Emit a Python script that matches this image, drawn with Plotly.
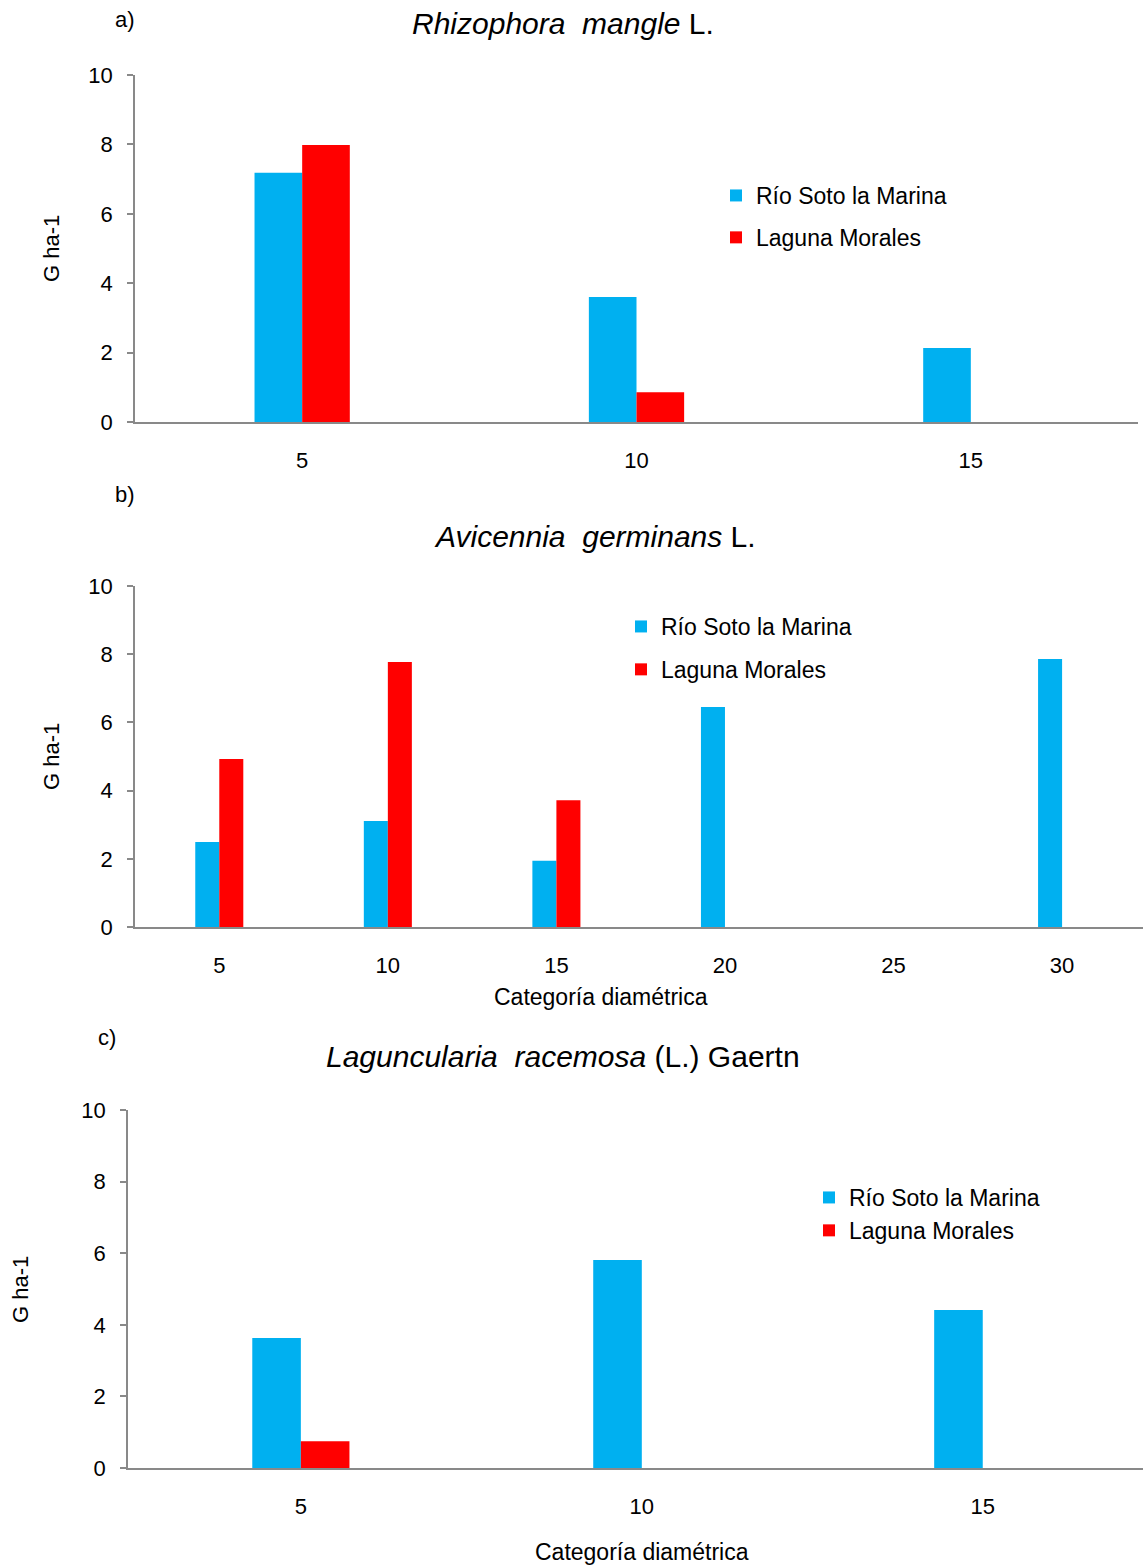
import plotly.graph_objects as go

# ---- data ----
cats_a = ["5", "10", "15"]
rio_a = [7.18, 3.6, 2.13]
lag_a = [7.98, 0.86, 0]

cats_b = ["5", "10", "15", "20", "25", "30"]
rio_b = [2.49, 3.11, 1.94, 6.45, None, 7.86]
lag_b = [4.93, 7.77, 3.72, 0, None, 0]

cats_c = ["5", "10", "15"]
rio_c = [3.63, 5.81, 4.41]
lag_c = [0.75, 0, 0]

series_names = ["Río Soto la Marina", "Laguna Morales"]
colors = ["#00B0F0", "#FF0000"]

W, H = 1143, 1568
FONT = "Liberation Sans, Arial, sans-serif"

def px_x(p):
    return p / W

def px_y(p):
    return 1 - p / H

fig = go.Figure()

panels = [
    (cats_a, rio_a, lag_a, "x", "y", "legend"),
    (cats_b, rio_b, lag_b, "x2", "y2", "legend2"),
    (cats_c, rio_c, lag_c, "x3", "y3", "legend3"),
]
for cats, rio, lag, xa, ya, lg in panels:
    for i, (vals, name) in enumerate(zip([rio, lag], series_names)):
        fig.add_trace(go.Bar(
            x=cats, y=vals, name=name, marker=dict(color=colors[i], line=dict(width=0)),
            xaxis=xa, yaxis=ya, legend=lg, legendgroup=lg + str(i),
        ))

axis_color = "#898989"
tickfont = dict(family=FONT, size=22, color="#000")

def xaxis(domain, anchor, rng):
    return dict(domain=domain, anchor=anchor, type="category", range=rng,
                showline=True, linecolor=axis_color, linewidth=2,
                ticks="", showgrid=False, zeroline=False, tickfont=tickfont,
                ticklabelstandoff=18, fixedrange=True, automargin=False)

def yaxis(domain, anchor):
    return dict(domain=domain, anchor=anchor, range=[0, 10], tickvals=[0, 2, 4, 6, 8, 10],
                showline=True, linecolor=axis_color, linewidth=1.5,
                ticks="outside", ticklen=6, tickcolor=axis_color, tickwidth=1.5,
                showgrid=False, zeroline=False, tickfont=tickfont,
                ticklabelstandoff=10, fixedrange=True, automargin=False)

layout = dict(
    width=W, height=H, margin=dict(l=0, r=0, t=0, b=0, autoexpand=False),
    paper_bgcolor="white", plot_bgcolor="white",
    barmode="group", bargap=0.715, bargroupgap=0,
    font=dict(family=FONT, color="#000"),
    xaxis=xaxis([px_x(135), px_x(1138)], "y", [-0.5, 2.5]),
    yaxis=yaxis([px_y(422), px_y(75)], "x"),
    xaxis2=xaxis([px_x(135), 1.0], "y2", [-0.5, 5.48]),
    yaxis2=yaxis([px_y(927), px_y(586)], "x2"),
    xaxis3=xaxis([px_x(128), 1.0], "y3", [-0.507, 2.47]),
    yaxis3=yaxis([px_y(1468), px_y(1110)], "x3"),
)

legfont = dict(family=FONT, size=23, color="#000")
def legend(xp, yp, gap):
    return dict(x=px_x(xp), y=px_y(yp), xanchor="left", yanchor="top",
                bgcolor="rgba(0,0,0,0)", font=legfont, traceorder="grouped",
                tracegroupgap=gap, itemclick=False, itemdoubleclick=False)

layout["legend"] = legend(716, 174, 9)
layout["legend2"] = legend(621, 605, 10)
layout["legend3"] = legend(809, 1176, 0)
layout["showlegend"] = True

fig.update_layout(**layout)

ann = []
def text(t, x, y, size, angle=0):
    ann.append(dict(text=t, x=px_x(x), y=px_y(y), xref="paper", yref="paper",
                    showarrow=False, xanchor="center", yanchor="middle",
                    textangle=angle, font=dict(family=FONT, size=size, color="#000")))

text("a)", 125, 20, 22)
text("<i>Rhizophora  mangle</i> L.", 563, 24, 30)
text("b)", 125, 495, 22)
text("<i>Avicennia  germinans</i> L.", 595, 536, 30)
text("c)", 107, 1037, 22)
text("<i>Laguncularia  racemosa</i> (L.) Gaertn", 563, 1056, 30)
text("G ha-1", 52, 249, 22, -90)
text("G ha-1", 52, 757, 22, -90)
text("G ha-1", 20, 1290, 22, -90)
text("Categoría diamétrica", 601, 997, 23)
text("Categoría diamétrica", 642, 1552, 23)
fig.update_layout(annotations=ann)

fig.write_html("out.html")
